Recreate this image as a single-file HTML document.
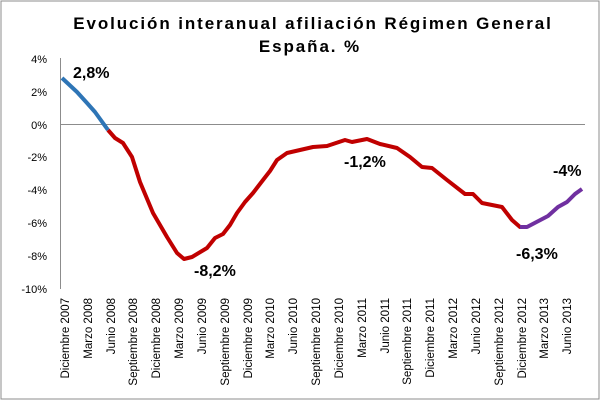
<!DOCTYPE html>
<html><head><meta charset="utf-8"><style>
html,body{margin:0;padding:0;background:#fff}
svg{display:block}
text{font-family:"Liberation Sans",sans-serif}
</style></head><body>
<svg width="601" height="401" viewBox="0 0 601 401" xmlns="http://www.w3.org/2000/svg">
<rect x="1" y="1" width="598" height="398" fill="#fff" stroke="#8c8c8c" stroke-width="1"/>
<text x="313" y="29" text-anchor="middle" font-size="17" font-weight="bold" letter-spacing="1.9" fill="#000">Evolución interanual afiliación Régimen General</text>
<text x="310" y="52" text-anchor="middle" font-size="17" font-weight="bold" letter-spacing="1.9" fill="#000">España. %</text>
<line x1="60.5" y1="58" x2="60.5" y2="289" stroke="#8c8c8c"/>
<line x1="60" y1="124.5" x2="585" y2="124.5" stroke="#8c8c8c"/>
<g font-size="11" text-anchor="end" fill="#000">
<text x="47" y="63">4%</text><text x="47" y="96">2%</text><text x="47" y="129">0%</text><text x="47" y="161">-2%</text><text x="47" y="194">-4%</text><text x="47" y="227">-6%</text><text x="47" y="260">-8%</text><text x="47" y="293">-10%</text>
</g>
<g font-size="11.5" text-anchor="end" fill="#000">
<text transform="translate(69,298) rotate(-90)">Diciembre 2007</text>
<text transform="translate(92,298) rotate(-90)">Marzo 2008</text>
<text transform="translate(115,298) rotate(-90)">Junio 2008</text>
<text transform="translate(137,298) rotate(-90)">Septiembre 2008</text>
<text transform="translate(160,298) rotate(-90)">Diciembre 2008</text>
<text transform="translate(183,298) rotate(-90)">Marzo 2009</text>
<text transform="translate(206,298) rotate(-90)">Junio 2009</text>
<text transform="translate(229,298) rotate(-90)">Septiembre 2009</text>
<text transform="translate(252,298) rotate(-90)">Diciembre 2009</text>
<text transform="translate(274,298) rotate(-90)">Marzo 2010</text>
<text transform="translate(297,298) rotate(-90)">Junio 2010</text>
<text transform="translate(320,298) rotate(-90)">Septiembre 2010</text>
<text transform="translate(343,298) rotate(-90)">Diciembre 2010</text>
<text transform="translate(366,298) rotate(-90)">Marzo 2011</text>
<text transform="translate(389,298) rotate(-90)">Junio 2011</text>
<text transform="translate(411,298) rotate(-90)">Septiembre 2011</text>
<text transform="translate(434,298) rotate(-90)">Diciembre 2011</text>
<text transform="translate(457,298) rotate(-90)">Marzo 2012</text>
<text transform="translate(480,298) rotate(-90)">Junio 2012</text>
<text transform="translate(503,298) rotate(-90)">Septiembre 2012</text>
<text transform="translate(526,298) rotate(-90)">Diciembre 2012</text>
<text transform="translate(548,298) rotate(-90)">Marzo 2013</text>
<text transform="translate(571,298) rotate(-90)">Junio 2013</text>
</g>
<polyline fill="none" stroke="#c00000" stroke-width="4" stroke-linejoin="round" points="108,130 115,138 123,143 132,157 140,182 153,213 167,237 177,253 184,259 192,257 207,248 215,238 223,234 230,225 237,213 245,202 253,193 263,180 270,171 277,160 287,153 300,150 313,147 327,146 345,140 352,142 367,139 380,144 397,148 410,157 422,167 432,168 447,180 465,194 473,194 482,203 502,207 512,220 520,227 527,227"/>
<polyline fill="none" stroke="#2e75b6" stroke-width="4" stroke-linejoin="round" points="62,78 77,92 87,103 95,112 108,130"/>
<polyline fill="none" stroke="#7030a0" stroke-width="4" stroke-linejoin="round" points="520,227 527,227 548,216 558,207 567,202 575,194 582,189"/>
<g font-size="16" font-weight="bold" fill="#000">
<text x="73" y="78">2,8%</text>
<text x="194" y="276">-8,2%</text>
<text x="344" y="167">-1,2%</text>
<text x="553" y="176">-4%</text>
<text x="516" y="259">-6,3%</text>
</g>
</svg>
</body></html>
